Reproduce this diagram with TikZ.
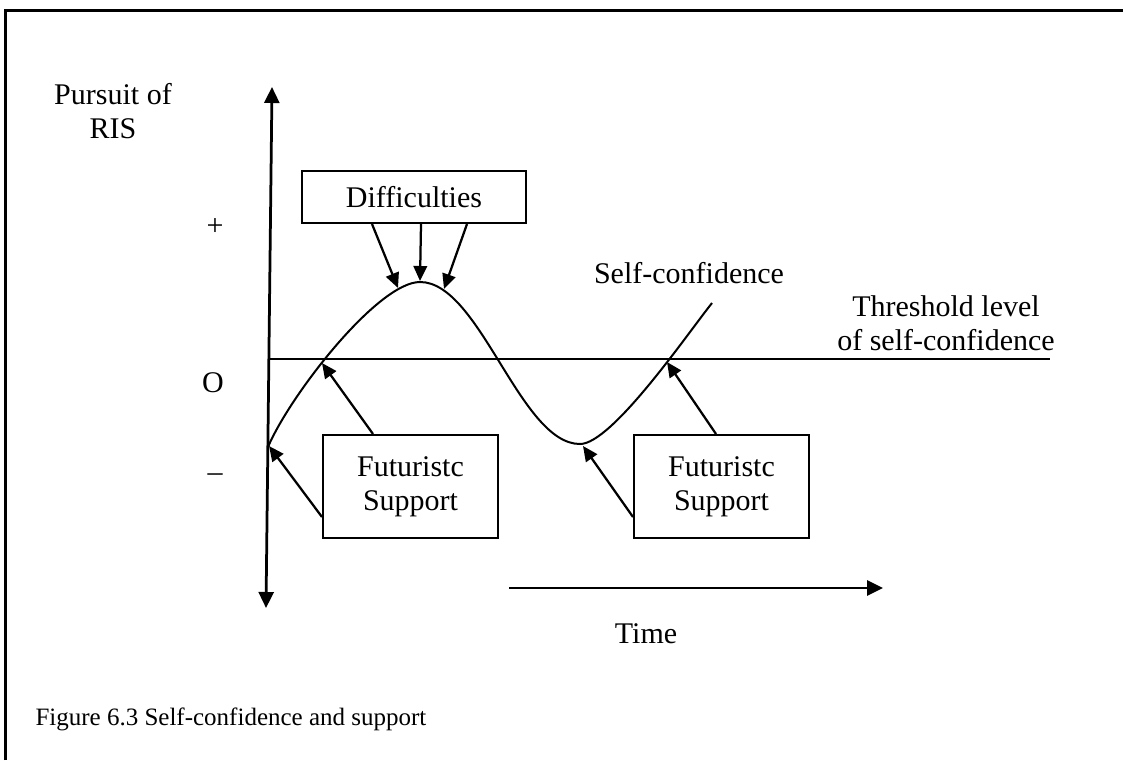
\documentclass[tikz,border=0pt]{standalone}
\usepackage{fontspec}
\setmainfont{Liberation Serif}
\usetikzlibrary{arrows.meta,calc}
\begin{document}
\begin{tikzpicture}[x=0.4pt,y=-0.4pt,>={Triangle[length=6pt,width=5.4pt]},
  lbl/.style={inner sep=0pt,font=\fontsize{12}{13.6}\selectfont},
  box/.style={draw,line width=0.8pt,inner sep=0pt,align=center,font=\fontsize{12}{13.6}\selectfont},
  pointer/.style={->,line width=0.9pt}]
  \useasboundingbox (0,0) rectangle (1123,760);
  \draw[line width=0.9pt] (5.5,760) -- (5.5,10.5) -- (1123,10.5);
  \coordinate (ybot) at (266,608);
  \coordinate (ytop) at (272,87);
  \draw[<->,line width=1.1pt,>={Triangle[length=6.4pt,width=6pt]}] (ybot) -- (ytop);
  \coordinate (t0) at (509,588);
  \coordinate (t1) at (883,588);
  \draw[->,line width=1.1pt,>={Triangle[length=6.4pt,width=6pt]}] (t0) -- (t1);
  \coordinate (th0) at (269,359);
  \coordinate (th1) at (1050,359);
  \draw[line width=0.7pt] (th0) -- (th1);
  \draw[line width=0.8pt] (268,447) .. controls (290,395) and (378,282) .. (420,282)
    .. controls (480,282) and (520,444) .. (580,444)
    .. controls (612,444) and (688,333) .. (712,303);
  \node[lbl,anchor=north,align=center] (yname) at (113,82.5) {Pursuit of\\RIS};
  \node[lbl] (plus) at (215,227) {+};
  \node[lbl] (zero) at (213,383) {O};
  \node[lbl] (minus) at (215,478) {\textendash};
  \node[lbl,anchor=base] (sclabel) at (689,283) {Self-confidence};
  \node[lbl,anchor=north,align=center] (thlabel) at (946,295.5) {Threshold level\\of self-confidence};
  \node[lbl,anchor=base] (time) at (646,643) {Time};
  \node[inner sep=0pt,anchor=base west,font=\fontsize{10}{12}\selectfont] (caption) at (35,725) {Figure 6.3 Self-confidence and support};
  \node[box,minimum width=89.6pt,minimum height=20.8pt] (diff) at (414,197) {Difficulties};
  \node[box,minimum width=70pt,minimum height=41.2pt] (sup1) at (410.5,486.5) {Futuristc\\Support};
  \node[box,minimum width=70pt,minimum height=41.2pt] (sup2) at (721.5,486.5) {Futuristc\\Support};
  \coordinate (dl) at (398,288);
  \coordinate (dm) at (420,281);
  \coordinate (dr) at (444,289);
  \coordinate (cross1) at (322,363);
  \coordinate (start) at (269,446);
  \coordinate (cross2) at (667,362);
  \coordinate (low) at (583,446);
  \draw[pointer] ($(diff.south)+(-42,0)$) -- (dl);
  \draw[pointer] ($(diff.south)+(7,0)$) -- (dm);
  \draw[pointer] ($(diff.south)+(53,0)$) -- (dr);
  \draw[pointer] ($(sup1.north)+(-37.5,0)$) -- (cross1);
  \draw[pointer] ($(sup1.west)+(0,30.5)$) -- (start);
  \draw[pointer] ($(sup2.north)+(-5.5,0)$) -- (cross2);
  \draw[pointer] ($(sup2.west)+(0,30.5)$) -- (low);
\end{tikzpicture}
\end{document}
